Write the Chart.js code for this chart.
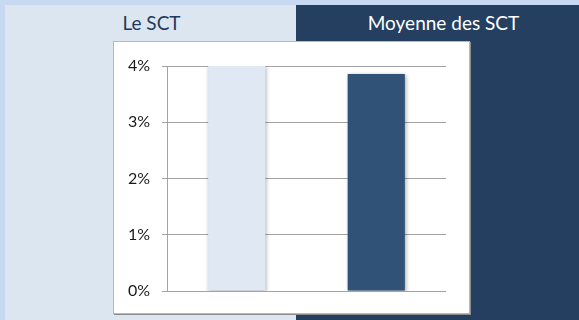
<!DOCTYPE html>
<html>
<head>
<meta charset="utf-8">
<script src="https://cdn.jsdelivr.net/npm/chart.js@4"></script>
<style>
  html, body { margin: 0; padding: 0; }
  body {
    width: 579px; height: 320px; overflow: hidden;
    background: #c6d9f1; position: relative;
    font-family: Lato, "Open Sans", sans-serif;
  }
  .panel { position: absolute; top: 5px; height: 315px; }
  #left  { left: 5px;   width: 291px; background: #dce6f1; }
  #right { left: 296px; width: 283px; background: #243f60; }
  .head {
    position: absolute; top: 0; left: 0; right: 0;
    height: 35px; line-height: 35px; text-align: center; font-size: 19px;
  }
  #left .head  { color: #1f3a5c; padding-left: 2px; }
  #right .head { color: #ffffff; padding-left: 12px; }
  #box {
    position: absolute; left: 113px; top: 41px;
    width: 355px; height: 271px;
    background: #fff;
    border: 1px solid #b8b8b8;
    box-shadow: 1px 1px 0 #8c8c8c;
  }
  #box canvas { display: block; }
</style>
</head>
<body>
<div class="panel" id="left"><div class="head" id="head-0"></div></div>
<div class="panel" id="right"><div class="head" id="head-1"></div></div>
<div id="box"><canvas id="chart" width="355" height="271"></canvas></div>

<script>
// categories and values (percent)
const categories = ['Le SCT', 'Moyenne des SCT'];
const values     = [4.0, 3.86];
const barColors  = ['#dfe8f3', '#2f5276'];
const yTicks     = [0, 1, 2, 3, 4];

document.getElementById('head-0').textContent = categories[0];
document.getElementById('head-1').textContent = categories[1];

// soft drop shadow under the bars
const barShadow = {
  id: 'barShadow',
  beforeDatasetsDraw(chart) {
    const c = chart.ctx;
    c.save();
    c.shadowColor = 'rgba(0,0,0,0.35)';
    c.shadowBlur = 4;
    c.shadowOffsetX = 1;
    c.shadowOffsetY = 1;
  },
  afterDatasetsDraw(chart) {
    chart.ctx.restore();
  },
};

new Chart(document.getElementById('chart').getContext('2d'), {
  type: 'bar',
  data: {
    labels: categories,
    datasets: [{
      data: values,
      backgroundColor: barColors,
      borderWidth: 0,
      categoryPercentage: 1,
      barPercentage: 0.41,
    }],
  },
  plugins: [barShadow],
  options: {
    responsive: false,
    animation: false,
    layout: { padding: { top: 24, right: 23, bottom: 22, left: 0 } },
    scales: {
      x: { display: false },
      y: {
        min: 0, max: 4,
        afterFit: s => { s.width = 53; },
        afterBuildTicks: s => { s.ticks = yTicks.map(v => ({ value: v })); },
        ticks: {
          color: '#1a1a1a',
          padding: 12,
          font: { family: 'Lato', size: 16 },
          callback: v => v + '%',
        },
        grid: { color: '#a3a3a3', lineWidth: 1, tickLength: 5 },
        border: { color: '#a3a3a3', width: 1 },
      },
    },
    plugins: {
      legend: { display: false },
      tooltip: { enabled: false },
    },
  },
});
</script>
</body>
</html>
